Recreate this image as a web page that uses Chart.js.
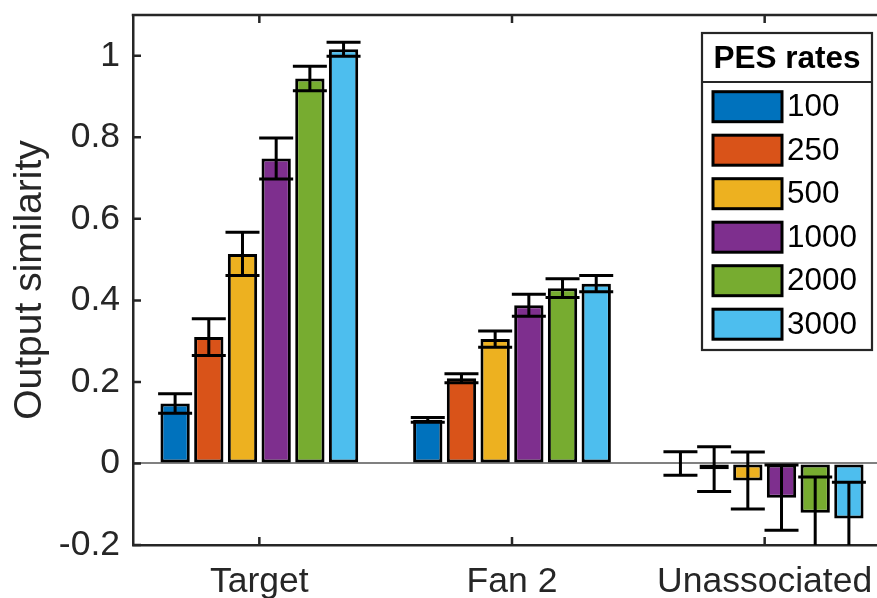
<!DOCTYPE html>
<html>
<head>
<meta charset="utf-8">
<script src="https://cdn.jsdelivr.net/npm/chart.js@4.4.1/dist/chart.umd.min.js"></script>
<style>
  html, body { margin: 0; padding: 0; background: #fff; overflow: hidden; }
  #wrap { position: absolute; left: 0; top: 0; width: 900px; height: 630px; }
</style>
</head>
<body>
<div id="wrap"><canvas id="chart" width="900" height="630"></canvas></div>
<script>
// categories and series (one array per PES rate)
const categories = ["Target", "Fan 2", "Unassociated"];
const rateLabels = ["100", "250", "500", "1000", "2000", "3000"];
const rate100  = [0.147, 0.107, 0.000];
const rate250  = [0.310, 0.209, -0.014];
const rate500  = [0.514, 0.305, -0.042];
const rate1000 = [0.748, 0.388, -0.084];
const rate2000 = [0.944, 0.430, -0.121];
const rate3000 = [1.016, 0.441, -0.135];
// error bar half-lengths
const err100  = [0.024, 0.006, 0.029];
const err250  = [0.045, 0.011, 0.055];
const err500  = [0.053, 0.020, 0.070];
const err1000 = [0.050, 0.027, 0.080];
const err2000 = [0.030, 0.023, 0.088];
const err3000 = [0.017, 0.020, 0.089];
const yTicks = [-0.2, 0, 0.2, 0.4, 0.6, 0.8, 1];

const seriesValues = [rate100, rate250, rate500, rate1000, rate2000, rate3000];
const seriesErrors = [err100, err250, err500, err1000, err2000, err3000];
const colors = ["#0072BD", "#D95319", "#EDB120", "#7E2F8E", "#77AC30", "#4DBEEE"];

const AX = "#262626";
const FONT = '"Liberation Sans", Arial, Helvetica, sans-serif';

// error bars on top of bars
const errorBarPlugin = {
  id: "errorBars",
  afterDatasetsDraw(chart) {
    const { ctx, chartArea, scales } = chart;
    ctx.save();
    ctx.beginPath();
    ctx.rect(chartArea.left, chartArea.top, chartArea.right - chartArea.left, chartArea.bottom - chartArea.top);
    ctx.clip();
    ctx.strokeStyle = "#000";
    ctx.lineWidth = 3;
    ctx.lineCap = "butt";
    chart.data.datasets.forEach((ds, i) => {
      const meta = chart.getDatasetMeta(i);
      meta.data.forEach((bar, j) => {
        const m = ds.data[j];
        const e = seriesErrors[i][j];
        const yHi = scales.y.getPixelForValue(m + e);
        const yLo = scales.y.getPixelForValue(m - e);
        const half = 17;
        ctx.beginPath();
        ctx.moveTo(bar.x, yHi); ctx.lineTo(bar.x, yLo);
        ctx.moveTo(bar.x - half, yHi); ctx.lineTo(bar.x + half, yHi);
        ctx.moveTo(bar.x - half, yLo); ctx.lineTo(bar.x + half, yLo);
        ctx.stroke();
      });
    });
    ctx.restore();
  }
};

// top border, inward ticks and the boxed legend
const framePlugin = {
  id: "frame",
  afterDraw(chart) {
    const { ctx, chartArea, scales } = chart;
    const { left, right, top, bottom } = chartArea;
    ctx.save();
    ctx.strokeStyle = AX;
    ctx.lineWidth = 2.5;
    ctx.beginPath();
    ctx.moveTo(left - 1.25, top); ctx.lineTo(right, top);
    // y ticks pointing in
    scales.y.ticks.forEach((t, k) => {
      const y = scales.y.getPixelForTick(k);
      ctx.moveTo(left, y); ctx.lineTo(left + 8, y);
    });
    // x ticks, bottom and top
    scales.x.ticks.forEach((t, k) => {
      const x = scales.x.getPixelForTick(k);
      ctx.moveTo(x, bottom); ctx.lineTo(x, bottom - 8);
      ctx.moveTo(x, top); ctx.lineTo(x, top + 8);
    });
    ctx.stroke();

    // legend
    const lx = 702, ly = 33, lw = 170, lh = 317;
    ctx.fillStyle = "#fff";
    ctx.fillRect(lx, ly, lw, lh);
    ctx.lineWidth = 2.2;
    ctx.strokeStyle = AX;
    ctx.strokeRect(lx, ly, lw, lh);
    ctx.beginPath();
    ctx.moveTo(lx, 82); ctx.lineTo(lx + lw, 82);
    ctx.stroke();
    ctx.fillStyle = "#000";
    ctx.font = "bold 31.5px " + FONT;
    ctx.textAlign = "center";
    ctx.textBaseline = "middle";
    ctx.fillText("PES rates", lx + lw / 2, 59);
    ctx.font = "31.5px " + FONT;
    ctx.textAlign = "left";
    chart.data.datasets.forEach((ds, i) => {
      const cy = 106.7 + i * 43.5;
      ctx.fillStyle = ds.backgroundColor;
      ctx.fillRect(713, cy - 15, 69, 30);
      ctx.strokeStyle = "#000";
      ctx.lineWidth = 3;
      ctx.strokeRect(713, cy - 15, 69, 30);
      ctx.fillStyle = "#000";
      ctx.fillText(ds.label, 787, cy + 1);
    });
    ctx.restore();
  }
};

const datasets = seriesValues.map((vals, i) => ({
  label: rateLabels[i],
  data: vals,
  backgroundColor: colors[i],
  borderColor: "#000",
  borderWidth: 3,
  borderSkipped: false,
  categoryPercentage: 0.8,
  barPercentage: 0.87
}));

new Chart(document.getElementById("chart").getContext("2d"), {
  type: "bar",
  data: { labels: categories, datasets: datasets },
  options: {
    responsive: false,
    animation: false,
    layout: { padding: { left: 4, right: 9, top: 15, bottom: 0 } },
    plugins: { legend: { display: false }, tooltip: { enabled: false } },
    scales: {
      x: {
        offset: true,
        grid: { display: false, drawTicks: false },
        border: { color: AX, width: 2.5 },
        ticks: { color: AX, font: { family: FONT, size: 35.5 }, padding: 16, maxRotation: 0, autoSkip: false },
        afterFit(scale) {
          scale.height = 85;
          scale.paddingLeft = 0;
          scale.paddingRight = 0;
        }
      },
      y: {
        min: -0.2,
        max: 1.1,
        afterBuildTicks(scale) { scale.ticks = yTicks.map(v => ({ value: v })); },
        grid: {
          drawTicks: false,
          color: (c) => (c.tick && c.tick.value === 0 ? "#808080" : "rgba(0,0,0,0)"),
          lineWidth: 2
        },
        border: { color: AX, width: 2.5 },
        ticks: {
          color: AX,
          font: { family: FONT, size: 35.5 },
          padding: 13,
          callback: (v) => String(v)
        },
        title: {
          display: true,
          text: "Output similarity",
          color: AX,
          font: { family: FONT, size: 39 },
          padding: { top: 3, bottom: 0 }
        },
        afterFit(scale) {
          scale.width = 129;
          scale.paddingTop = 0;
          scale.paddingBottom = 0;
        }
      }
    }
  },
  plugins: [errorBarPlugin, framePlugin]
});
</script>
</body>
</html>
